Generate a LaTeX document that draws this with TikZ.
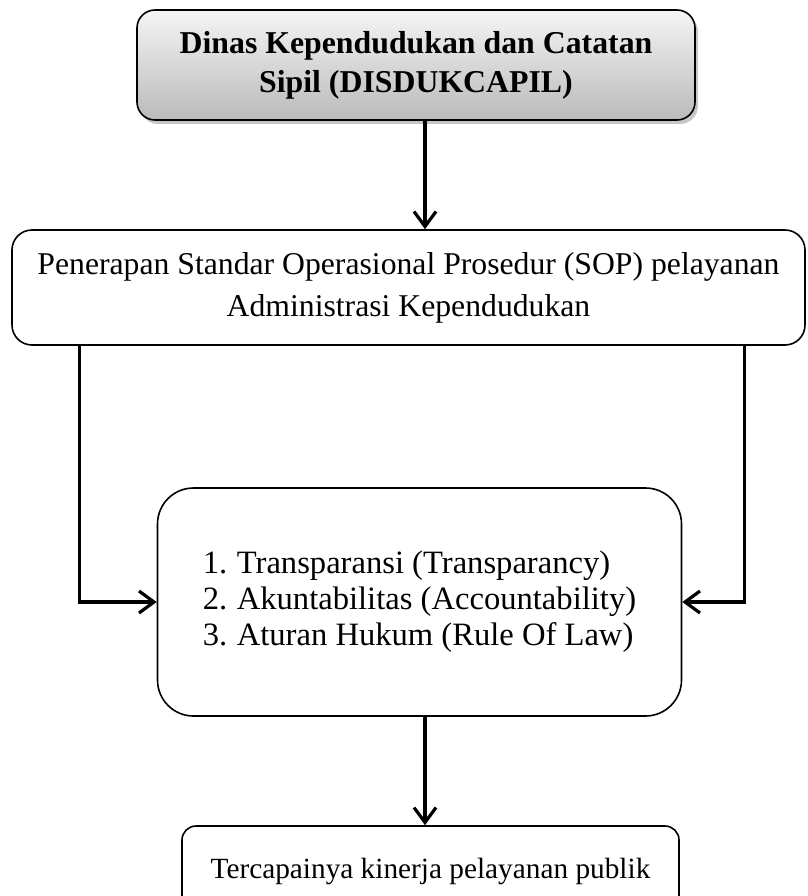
\documentclass[tikz,border=0pt]{standalone}
\usepackage{fontspec}
\setmainfont{Liberation Serif}
\usetikzlibrary{arrows.meta,shadows}

\tikzset{
  box/.style={draw, line width=1.6pt, rounded corners=20pt, align=center, fill=white},
  topbox/.style={box, rounded corners=18pt, top color=black!4, bottom color=black!27,
    drop shadow={shadow xshift=3pt, shadow yshift=-4pt, opacity=0.45}},
  arr/.style={line width=3.2pt, -{Straight Barb[length=15pt, width=22pt, line width=3.2pt]}}
}

\begin{document}
\begin{tikzpicture}[x=1pt, y=-1pt]
			%%%%% START %%%%%
			\useasboundingbox (0, 0) rectangle (807, 896);
			\coordinate (axis) at (425, 0);
			
			\node[topbox, minimum width=558pt, minimum height=110pt,
			  font=\bfseries\fontsize{31.8}{39}\selectfont] (dinas) at (416, 65)
			  {Dinas Kependudukan dan Catatan\\Sipil (DISDUKCAPIL)};
			
			\node[box, minimum width=793pt, minimum height=115pt,
			  font=\fontsize{31.7}{42}\selectfont] (sop) at (408.5, 287.5)
			  {Penerapan Standar Operasional Prosedur (SOP) pelayanan\\Administrasi Kependudukan};
			
			\node[box, rounded corners=36pt, minimum width=524pt, minimum height=228pt,
			  align=left, font=\fontsize{32.6}{36}\selectfont] (prinsip) at (419.5, 602)
			  {\makebox[34pt][l]{1.}Transparansi (Transparancy)\\
			   \makebox[34pt][l]{2.}Akuntabilitas (Accountability)\\
			   \makebox[34pt][l]{3.}Aturan Hukum (Rule Of Law)};
			
			\node[box, rounded corners=14pt, minimum width=497pt, minimum height=90pt,
			  font=\fontsize{29.3}{34}\selectfont] (kinerja) at (430.5, 871)
			  {Tercapainya kinerja pelayanan publik};
			
			\draw[arr] (dinas.south -| axis) -- (sop.north -| axis);
			\draw[arr] ([xshift=68pt]sop.south west) |- (prinsip.west);
			\draw[arr] ([xshift=-61pt]sop.south east) |- (prinsip.east);
			\draw[arr] (prinsip.south -| axis) -- (kinerja.north -| axis);
			%%%%% END %%%%%
\end{tikzpicture}
\end{document}
